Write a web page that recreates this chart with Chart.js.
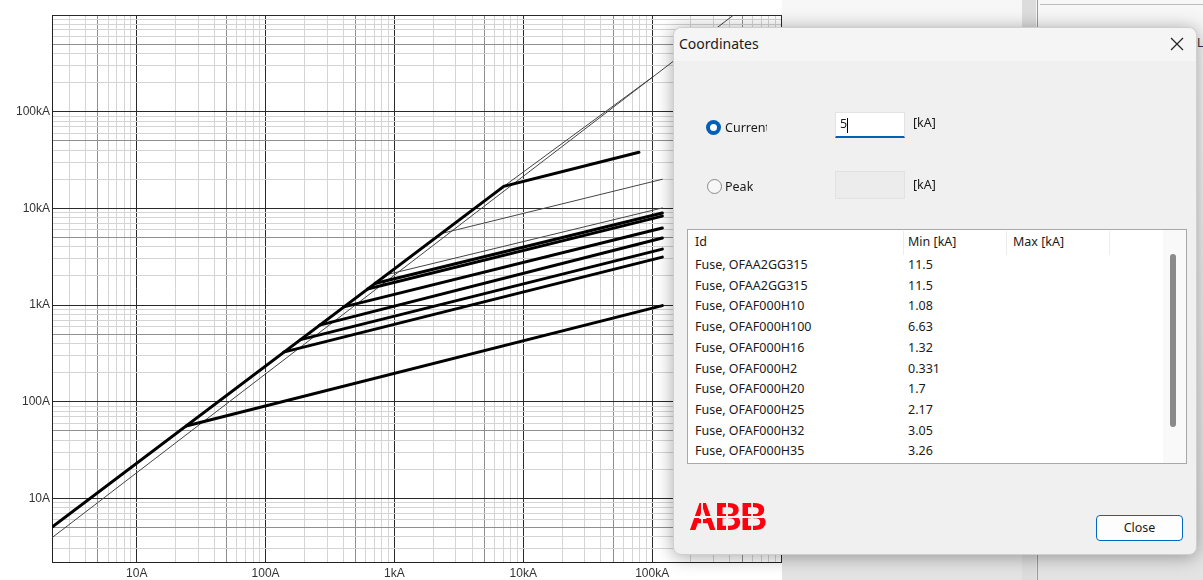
<!DOCTYPE html>
<html>
<head>
<meta charset="utf-8">
<title>Cut-off current</title>
<script src="https://cdn.jsdelivr.net/npm/chart.js@4.4.0/dist/chart.umd.min.js"></script>
<style>
  body { margin: 0; width: 1203px; height: 580px; overflow: hidden; background: #fff; position: relative; font-family: "Noto Sans", sans-serif; }
  #app { position: absolute; left: 782px; top: 0; width: 421px; height: 580px; background: linear-gradient(#f7f7f7, #e3e3e3); }
  #app .bar { position: absolute; left: 240px; top: 0; width: 14px; height: 580px; background: #dcdcdc; }
  #app .sep { position: absolute; left: 255px; top: 0; width: 1px; height: 580px; background: #9a9a9a; }
  #app .hl { position: absolute; left: 258px; top: 4px; width: 170px; height: 1px; background: #bdbdbd; }
  #app .L { position: absolute; left: 415px; top: 34px; font-size: 12px; color: #333; }
  #wrap { position: absolute; left: 0; top: 0; }
  #dlg { position: absolute; left: 673px; top: 27px; width: 524px; height: 528px; background: #f0f0f0; border-radius: 8px; box-shadow: 0 2px 18px rgba(0,0,0,0.35); border: 1px solid #cfcfcf; box-sizing: border-box; color: #1a1a1a; font-size: 12.5px; }
  #dlg .title { position: absolute; left: 0; top: 0; width: 100%; height: 33px; background: #f5f5f5; border-radius: 8px 8px 0 0; }
  #dlg .title span { position: absolute; left: 5px; top: 6px; font-size: 14px; }
  #dlg .x { position: absolute; left: 495px; top: 8px; }
  .radio { position: absolute; width: 15px; height: 15px; border-radius: 50%; box-sizing: border-box; }
  .radio.on { background: #005fb8; }
  .radio.on:after { content: ""; position: absolute; left: 4px; top: 4px; width: 7px; height: 7px; border-radius: 50%; background: #fff; }
  .radio.off { border: 1px solid #8a8a8a; background: #f7f7f7; }
  .lbl { position: absolute; line-height: 16px; white-space: nowrap; overflow: hidden; }
  .inp { position: absolute; width: 70px; box-sizing: border-box; }
  .inp.a { background: #fff; border: 1px solid #e3e3e3; border-bottom: 2px solid #005fb8; height: 26px; }
  .inp.a span { position: absolute; left: 4px; top: 2px; }
  .inp.a i { position: absolute; left: 11px; top: 5px; width: 1px; height: 15px; background: #000; }
  .inp.b { background: #ececec; border: 1px solid #e2e2e2; height: 28px; }
  #list { position: absolute; left: 13px; top: 201px; width: 500px; height: 235px; background: #fff; border: 1px solid #a8a8a8; box-sizing: border-box; overflow: hidden; }
  #list .hd { position: absolute; top: 4px; line-height: 16px; }
  #list .cs { position: absolute; top: 1px; width: 1px; height: 24px; background: #ececec; }
  #list .row { position: absolute; line-height: 16px; white-space: nowrap; }
  #list .track { position: absolute; left: 475px; top: 0; width: 24px; height: 235px; background: #f9f9f9; }
  #list .thumb { position: absolute; left: 482px; top: 24px; width: 6px; height: 173px; background: #8a8a8a; border-radius: 3px; }
  #abb { position: absolute; left: 15px; top: 475px; font-family: "Liberation Sans", Arial, sans-serif; font-weight: bold; font-size: 38px; line-height: 28px; letter-spacing: -2px; color: #ff000f; }
  #abb i { position: absolute; background: #f0f0f0; }
  #close { position: absolute; left: 422px; top: 487px; width: 87px; height: 26px; box-sizing: border-box; background: #fdfdfd; border: 1px solid #0067c0; border-radius: 4px; text-align: center; line-height: 23px; }
</style>
</head>
<body>
<div id="app"><div class="bar"></div><div class="sep"></div><div class="hl"></div><span class="L">L</span></div>
<div id="wrap"><canvas id="fuseChart" width="790" height="580"></canvas></div>

<div id="dlg">
  <div class="title"><span>Coordinates</span></div>
  <svg class="x" width="16" height="16"><path d="M2 2 L14 14 M14 2 L2 14" stroke="#222" stroke-width="1.2"/></svg>

  <div class="radio on" style="left:32px;top:92px"></div>
  <div class="lbl" style="left:51px;top:92px;width:42px">Current</div>
  <div class="inp a" style="left:161px;top:84px"><span>5</span><i></i></div>
  <div class="lbl" style="left:239px;top:87px">[kA]</div>

  <div class="radio off" style="left:33px;top:151px"></div>
  <div class="lbl" style="left:51px;top:151px">Peak</div>
  <div class="inp b" style="left:161px;top:143px"></div>
  <div class="lbl" style="left:239px;top:149px">[kA]</div>

  <div id="list">
    <div class="track"></div><div class="thumb"></div>
    <span class="hd" style="left:7px">Id</span>
    <span class="hd" style="left:220px">Min [kA]</span>
    <span class="hd" style="left:325px">Max [kA]</span>
    <div class="cs" style="left:215px"></div><div class="cs" style="left:318px"></div><div class="cs" style="left:421px"></div>
  </div>

  <div id="abb">ABB<i style="left:0;top:13px;width:80px;height:2px"></i><i style="left:12px;top:-2px;width:2px;height:30px"></i><i style="left:37px;top:-2px;width:2px;height:30px"></i><i style="left:62px;top:-2px;width:2px;height:30px"></i></div>
  <div id="close">Close</div>
</div>

<script>
// axis ticks
var tickValues = [10, 100, 1000, 10000, 100000];
var xTickLabels = ['10A', '100A', '1kA', '10kA', '100kA'];
var yTickLabels = ['10A', '100A', '1kA', '10kA', '100kA'];
var axisMin = 2.2;
var axisMax = 1000000;

// prospective current [A] -> cut-off peak current [A]
var gg315I = [2, 7060, 79000];
var gg315Ip = [4.6, 16900, 38000];
var gg315MaxI = [7060, 99300];
var gg315MaxIp = [16900, 225000];
var peakI = [2, 500000];
var peakIp = [3.56, 1170000];
var h100I = [2300, 120000];
var h100Ip = [5480, 20000];
var refI = [867, 120000];
var refIp = [2060, 10100];
var h35I = [706, 120000];
var h35Ip = [1671, 8940];
var h32I = [618, 120000];
var h32Ip = [1465, 8320];
var h25I = [405, 120000];
var h25Ip = [958, 6260];
var h20I = [263, 120000];
var h20Ip = [620, 4930];
var h16I = [187, 120000];
var h16Ip = [439, 3790];
var h10I = [138, 120000];
var h10Ip = [326, 3130];
var h2I = [24.2, 120000];
var h2Ip = [56.1, 987];

// list in the Coordinates dialog (current = 5 kA)
var listIds = ['Fuse, OFAA2GG315', 'Fuse, OFAA2GG315', 'Fuse, OFAF000H10', 'Fuse, OFAF000H100', 'Fuse, OFAF000H16',
  'Fuse, OFAF000H2', 'Fuse, OFAF000H20', 'Fuse, OFAF000H25', 'Fuse, OFAF000H32', 'Fuse, OFAF000H35'];
var listMin = ['11.5', '11.5', '1.08', '6.63', '1.32', '0.331', '1.7', '2.17', '3.05', '3.26'];

var list = document.getElementById('list');
for (var r = 0; r < listIds.length; r++) {
	var rowTop = Math.round(27 + r * 20.7);
	list.insertAdjacentHTML('beforeend',
		'<span class="row" style="left:7px;top:' + rowTop + 'px">' + listIds[r] + '</span>' +
		'<span class="row" style="left:220px;top:' + rowTop + 'px">' + listMin[r] + '</span>');
}

function line(xs, ys, thick) {
	var pts = [];
	for (var i = 0; i < xs.length; i++) {
		pts.push({x: xs[i], y: ys[i]});
	}
	return {
		data: pts,
		borderColor: thick ? '#000' : '#444',
		borderWidth: thick ? 3 : 1,
		borderCapStyle: 'round',
		pointRadius: 0,
		tension: 0,
		fill: false
	};
}

function mantissa(v) {
	var d = Math.pow(10, Math.floor(Math.log10(v) + 1e-9));
	return Math.round(v / d);
}

function gridColor(c) {
	if (!c.tick) return '#d4d4d4';
	var m = mantissa(c.tick.value);
	if (m === 1) return '#2a2a2a';
	if (m === 5) return '#8f8f8f';
	return '#d4d4d4';
}

function logTicks(scale) {
	var t = [];
	for (var d = 1; d <= axisMax; d *= 10) {
		for (var m = 1; m < 10; m++) {
			var v = m * d;
			if (v >= scale.min && v <= scale.max) t.push({value: v});
		}
	}
	scale.ticks = t;
}

function labelFrom(labels) {
	return function(value) {
		var i = tickValues.indexOf(value);
		return i < 0 ? '' : labels[i];
	};
}

var tickFont = {family: '"Liberation Sans", Arial, sans-serif', size: 12};

var ctx = document.getElementById('fuseChart').getContext('2d');
var fuseChart = new Chart(ctx, {
	type: 'line',
	data: {
		datasets: [
			line(gg315I, gg315Ip, true),
			line(h35I, h35Ip, true),
			line(h32I, h32Ip, true),
			line(h25I, h25Ip, true),
			line(h20I, h20Ip, true),
			line(h16I, h16Ip, true),
			line(h10I, h10Ip, true),
			line(h2I, h2Ip, true),
			line(gg315MaxI, gg315MaxIp, false),
			line(peakI, peakIp, false),
			line(h100I, h100Ip, false),
			line(refI, refIp, false)
		]
	},
	options: {
		responsive: false,
		animation: false,
		layout: {padding: {top: 15, right: 9, left: 0, bottom: 0}},
		plugins: {legend: {display: false}, tooltip: {enabled: false}},
		scales: {
			x: {
				type: 'logarithmic',
				min: axisMin,
				max: axisMax,
				afterBuildTicks: logTicks,
				afterFit: function(s) { s.height = 18; },
				grid: {color: gridColor, lineWidth: 1, drawTicks: false},
				border: {color: '#222', width: 1},
				ticks: {autoSkip: false, maxRotation: 0, minRotation: 0, padding: 4, color: '#333', font: tickFont, callback: labelFrom(xTickLabels)}
			},
			y: {
				type: 'logarithmic',
				min: axisMin,
				max: axisMax,
				afterBuildTicks: logTicks,
				afterFit: function(s) { s.width = 52; },
				grid: {color: gridColor, lineWidth: 1, drawTicks: false},
				border: {color: '#222', width: 1},
				ticks: {autoSkip: false, padding: 2, color: '#333', font: tickFont, callback: labelFrom(yTickLabels)}
			}
		}
	}
});
</script>
</body>
</html>
